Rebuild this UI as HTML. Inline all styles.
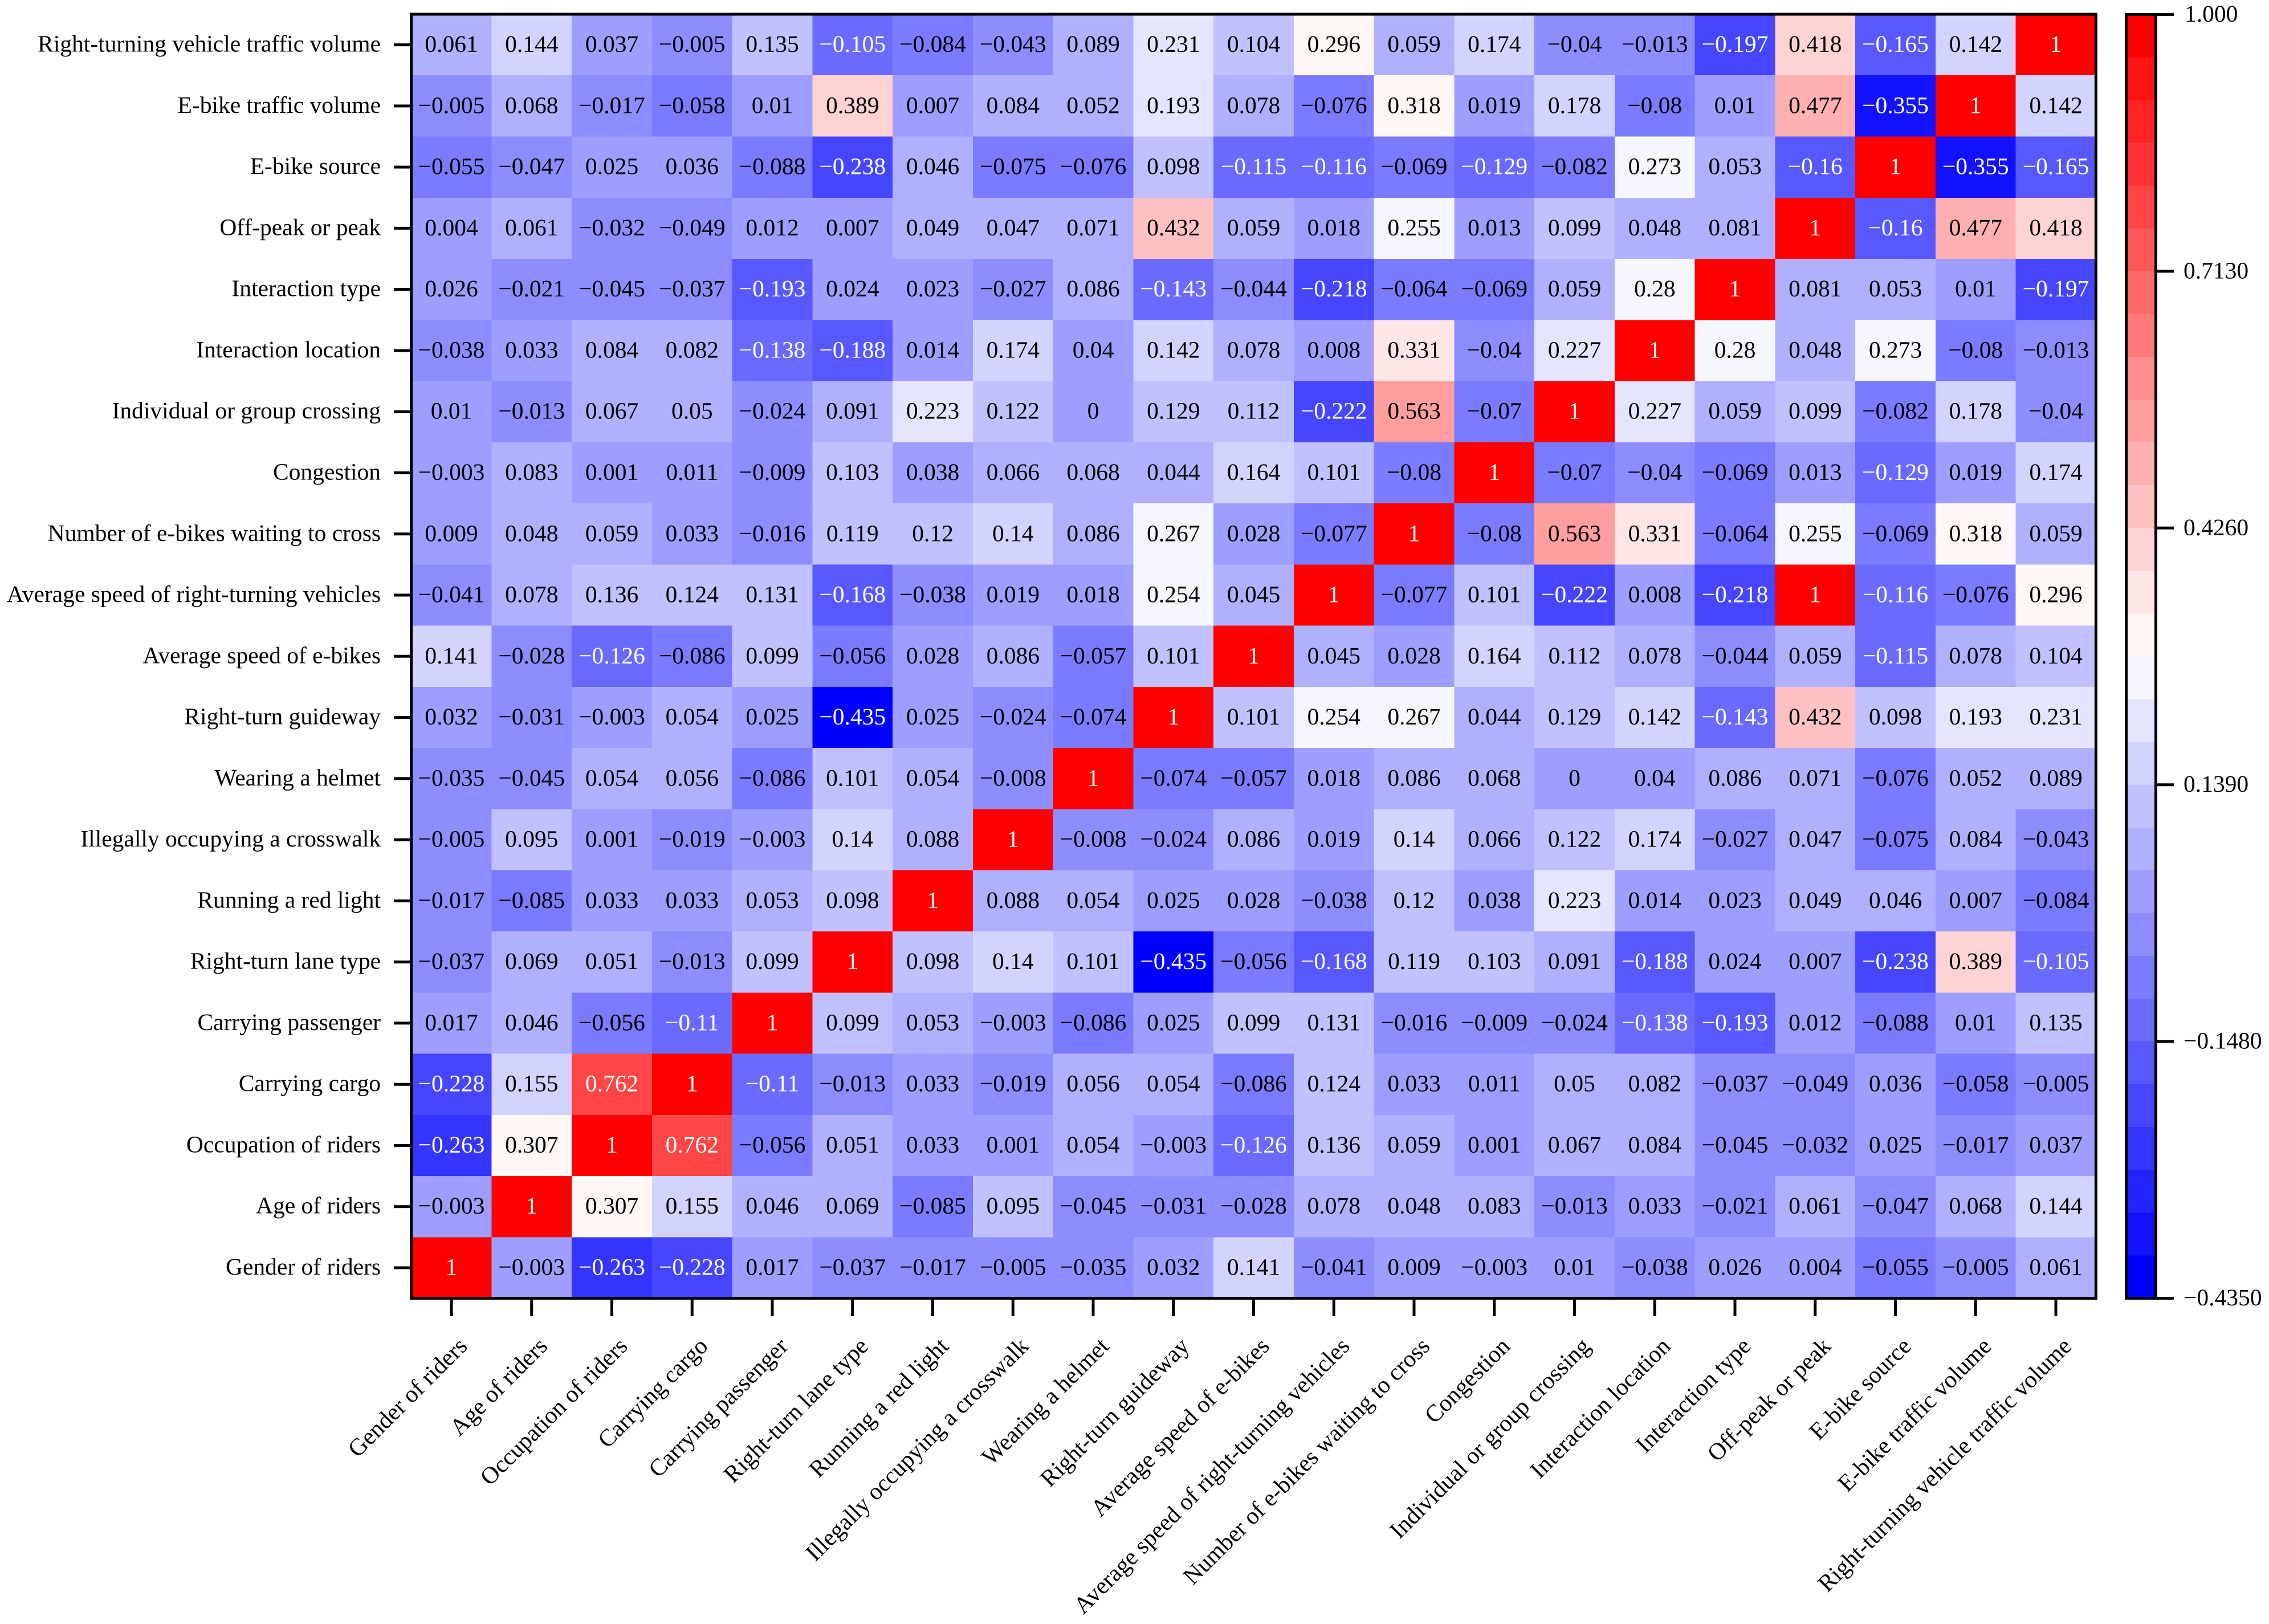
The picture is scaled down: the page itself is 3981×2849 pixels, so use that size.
<!DOCTYPE html>
<html lang="en">
<head>
<meta charset="utf-8">
<title>Correlation heatmap</title>
<style>
html,body{margin:0;padding:0;background:#fff;}
svg{display:block;}
text{font-family:"Liberation Serif","Times New Roman",serif;font-size:41.5px;text-rendering:geometricPrecision;}
</style>
</head>
<body>
<svg id="chart" xmlns="http://www.w3.org/2000/svg" width="3981" height="2849" viewBox="0 0 3981 2849"></svg>
<script>
const categories = ["Gender of riders","Age of riders","Occupation of riders","Carrying cargo","Carrying passenger","Right-turn lane type","Running a red light","Illegally occupying a crosswalk","Wearing a helmet","Right-turn guideway","Average speed of e-bikes","Average speed of right-turning vehicles","Number of e-bikes waiting to cross","Congestion","Individual or group crossing","Interaction location","Interaction type","Off-peak or peak","E-bike source","E-bike traffic volume","Right-turning vehicle traffic volume"];

const rowRightTurningVolume = [0.061,0.144,0.037,-0.005,0.135,-0.105,-0.084,-0.043,0.089,0.231,0.104,0.296,0.059,0.174,-0.04,-0.013,-0.197,0.418,-0.165,0.142,1];
const rowEbikeVolume = [-0.005,0.068,-0.017,-0.058,0.01,0.389,0.007,0.084,0.052,0.193,0.078,-0.076,0.318,0.019,0.178,-0.08,0.01,0.477,-0.355,1,0.142];
const rowEbikeSource = [-0.055,-0.047,0.025,0.036,-0.088,-0.238,0.046,-0.075,-0.076,0.098,-0.115,-0.116,-0.069,-0.129,-0.082,0.273,0.053,-0.16,1,-0.355,-0.165];
const rowOffPeak = [0.004,0.061,-0.032,-0.049,0.012,0.007,0.049,0.047,0.071,0.432,0.059,0.018,0.255,0.013,0.099,0.048,0.081,1,-0.16,0.477,0.418];
const rowInteractionType = [0.026,-0.021,-0.045,-0.037,-0.193,0.024,0.023,-0.027,0.086,-0.143,-0.044,-0.218,-0.064,-0.069,0.059,0.28,1,0.081,0.053,0.01,-0.197];
const rowInteractionLocation = [-0.038,0.033,0.084,0.082,-0.138,-0.188,0.014,0.174,0.04,0.142,0.078,0.008,0.331,-0.04,0.227,1,0.28,0.048,0.273,-0.08,-0.013];
const rowGroupCrossing = [0.01,-0.013,0.067,0.05,-0.024,0.091,0.223,0.122,0,0.129,0.112,-0.222,0.563,-0.07,1,0.227,0.059,0.099,-0.082,0.178,-0.04];
const rowCongestion = [-0.003,0.083,0.001,0.011,-0.009,0.103,0.038,0.066,0.068,0.044,0.164,0.101,-0.08,1,-0.07,-0.04,-0.069,0.013,-0.129,0.019,0.174];
const rowWaiting = [0.009,0.048,0.059,0.033,-0.016,0.119,0.12,0.14,0.086,0.267,0.028,-0.077,1,-0.08,0.563,0.331,-0.064,0.255,-0.069,0.318,0.059];
const rowSpeedVehicles = [-0.041,0.078,0.136,0.124,0.131,-0.168,-0.038,0.019,0.018,0.254,0.045,1,-0.077,0.101,-0.222,0.008,-0.218,1,-0.116,-0.076,0.296];
const rowSpeedEbikes = [0.141,-0.028,-0.126,-0.086,0.099,-0.056,0.028,0.086,-0.057,0.101,1,0.045,0.028,0.164,0.112,0.078,-0.044,0.059,-0.115,0.078,0.104];
const rowGuideway = [0.032,-0.031,-0.003,0.054,0.025,-0.435,0.025,-0.024,-0.074,1,0.101,0.254,0.267,0.044,0.129,0.142,-0.143,0.432,0.098,0.193,0.231];
const rowHelmet = [-0.035,-0.045,0.054,0.056,-0.086,0.101,0.054,-0.008,1,-0.074,-0.057,0.018,0.086,0.068,0,0.04,0.086,0.071,-0.076,0.052,0.089];
const rowCrosswalk = [-0.005,0.095,0.001,-0.019,-0.003,0.14,0.088,1,-0.008,-0.024,0.086,0.019,0.14,0.066,0.122,0.174,-0.027,0.047,-0.075,0.084,-0.043];
const rowRedLight = [-0.017,-0.085,0.033,0.033,0.053,0.098,1,0.088,0.054,0.025,0.028,-0.038,0.12,0.038,0.223,0.014,0.023,0.049,0.046,0.007,-0.084];
const rowLaneType = [-0.037,0.069,0.051,-0.013,0.099,1,0.098,0.14,0.101,-0.435,-0.056,-0.168,0.119,0.103,0.091,-0.188,0.024,0.007,-0.238,0.389,-0.105];
const rowPassenger = [0.017,0.046,-0.056,-0.11,1,0.099,0.053,-0.003,-0.086,0.025,0.099,0.131,-0.016,-0.009,-0.024,-0.138,-0.193,0.012,-0.088,0.01,0.135];
const rowCargo = [-0.228,0.155,0.762,1,-0.11,-0.013,0.033,-0.019,0.056,0.054,-0.086,0.124,0.033,0.011,0.05,0.082,-0.037,-0.049,0.036,-0.058,-0.005];
const rowOccupation = [-0.263,0.307,1,0.762,-0.056,0.051,0.033,0.001,0.054,-0.003,-0.126,0.136,0.059,0.001,0.067,0.084,-0.045,-0.032,0.025,-0.017,0.037];
const rowAge = [-0.003,1,0.307,0.155,0.046,0.069,-0.085,0.095,-0.045,-0.031,-0.028,0.078,0.048,0.083,-0.013,0.033,-0.021,0.061,-0.047,0.068,0.144];
const rowGender = [1,-0.003,-0.263,-0.228,0.017,-0.037,-0.017,-0.005,-0.035,0.032,0.141,-0.041,0.009,-0.003,0.01,-0.038,0.026,0.004,-0.055,-0.005,0.061];

// listed bottom row first, matching the category order
const seriesRows = [rowGender,rowAge,rowOccupation,rowCargo,rowPassenger,rowLaneType,rowRedLight,rowCrosswalk,rowHelmet,rowGuideway,rowSpeedEbikes,rowSpeedVehicles,rowWaiting,rowCongestion,rowGroupCrossing,rowInteractionLocation,rowInteractionType,rowOffPeak,rowEbikeSource,rowEbikeVolume,rowRightTurningVolume];

const colorbarTicks = [1,0.713,0.426,0.139,-0.148,-0.435];
const colorbarTickLabels = ["1.000","0.7130","0.4260","0.1390","\u22120.1480","\u22120.4350"];
const colorDomain = [-0.435,1];
const colorLevelCount = 30;

const svg = document.getElementById('chart');
const NS = 'http://www.w3.org/2000/svg';

function make(tag, parent, attrs) {
  const el = document.createElementNS(NS, tag);
  for (const k in attrs) el.setAttribute(k, attrs[k]);
  parent.appendChild(el);
  return el;
}

// axis functions
const xPitch = 140.75, yPitch = 107.27;
function xScale(i) { return 792 + xPitch * i; }
function yScale(i) { return 2224 - yPitch * i; }
function colorbarY(v) { return 25.5 + (colorDomain[1] - v) / (colorDomain[1] - colorDomain[0]) * 2252; }

function levelColor(level) {
  const t = level / (colorLevelCount - 1);
  if (t < 0.5) {
    const c = Math.round(255 * t * 2);
    return 'rgb(' + c + ',' + c + ',255)';
  }
  const c = Math.round(255 * (1 - t) * 2);
  return 'rgb(255,' + c + ',' + c + ')';
}
function levelOf(v) {
  const f = (v - colorDomain[0]) / (colorDomain[1] - colorDomain[0]);
  return Math.max(0, Math.min(colorLevelCount - 1, Math.floor(f * colorLevelCount)));
}
function formatValue(v) { return String(v).replace('-', '\u2212'); }
function textColor(v) { return (v < -0.1 || v > 0.7) ? '#fff' : '#000'; }

// heatmap cells
const cellsGroup = make('g', svg, {'shape-rendering':'crispEdges'});


const valuesGroup = make('g', svg, {'text-anchor':'middle'});



seriesRows.forEach(function (row, r) {
  row.forEach(function (v, c) {
    const cell = make('rect', cellsGroup, {
      x: xScale(c) - xPitch / 2,
      y: yScale(r) - yPitch / 2,
      width: xPitch,
      height: yPitch,
      fill: levelColor(levelOf(v))
    });
    
    
    const label = make('text', valuesGroup, {
      x: xScale(c),
      y: yScale(r) + 12.5,
      fill: textColor(v)
    });
    label.textContent = formatValue(v);
    
    
  });
});

// plot frame
const frame = make('rect', svg, {
  x: xScale(0) - xPitch / 2,
  y: yScale(seriesRows.length - 1) - yPitch / 2,
  width: xPitch * categories.length,
  height: yPitch * seriesRows.length,
  fill: 'none',
  stroke: '#000',
  'stroke-width': 5
});



// axis ticks and labels
categories.forEach(function (name, i) {
  const yTick = make('line', svg, {x1: 691, x2: 720, y1: yScale(i), y2: yScale(i), stroke: '#000', 'stroke-width': 5});
  
  
  const yLabel = make('text', svg, {x: 668, y: yScale(i) + 12, 'text-anchor': 'end', fill: '#000'});
  yLabel.textContent = name;
  
  

  const xTick = make('line', svg, {x1: xScale(i), x2: xScale(i), y1: 2278, y2: 2309, stroke: '#000', 'stroke-width': 5});
  
  
  const ax = xScale(i) + 30, ay = 2364;
  const xLabel = make('text', svg, {x: ax, y: ay, 'text-anchor': 'end', fill: '#000', style: 'font-size:42px', transform: 'rotate(-45 ' + ax + ' ' + ay + ')'});
  xLabel.textContent = name;
  
  
});

// colorbar
const barGroup = make('g', svg, {'shape-rendering':'crispEdges'});


const levelSpan = (colorDomain[1] - colorDomain[0]) / colorLevelCount;
for (let level = 0; level < colorLevelCount; level++) {
  const top = colorbarY(colorDomain[0] + (level + 1) * levelSpan);
  const bottom = colorbarY(colorDomain[0] + level * levelSpan);
  const band = make('rect', barGroup, {x: 3730, y: top, width: 52, height: bottom - top, fill: levelColor(level)});
  
  
}
const barLeft = make('line', svg, {x1: 3730.5, x2: 3730.5, y1: 23, y2: 2280, stroke: '#000', 'stroke-width': 5});


const barRight = make('line', svg, {x1: 3782.5, x2: 3782.5, y1: 23, y2: 2280, stroke: '#000', 'stroke-width': 5});



colorbarTicks.forEach(function (v, i) {
  const y = colorbarY(v);
  const isEnd = i === 0 || i === colorbarTicks.length - 1;
  const tick = make('line', svg, {x1: isEnd ? 3728 : 3783, x2: 3814, y1: y, y2: y, stroke: '#000', 'stroke-width': 5});
  
  
  const text = make('text', svg, {x: colorbarTickLabels[i].length === 5 ? 3833 : 3831, y: y + 12.5, fill: '#000'});
  text.textContent = colorbarTickLabels[i];
  
  
});
</script>
</body>
</html>
